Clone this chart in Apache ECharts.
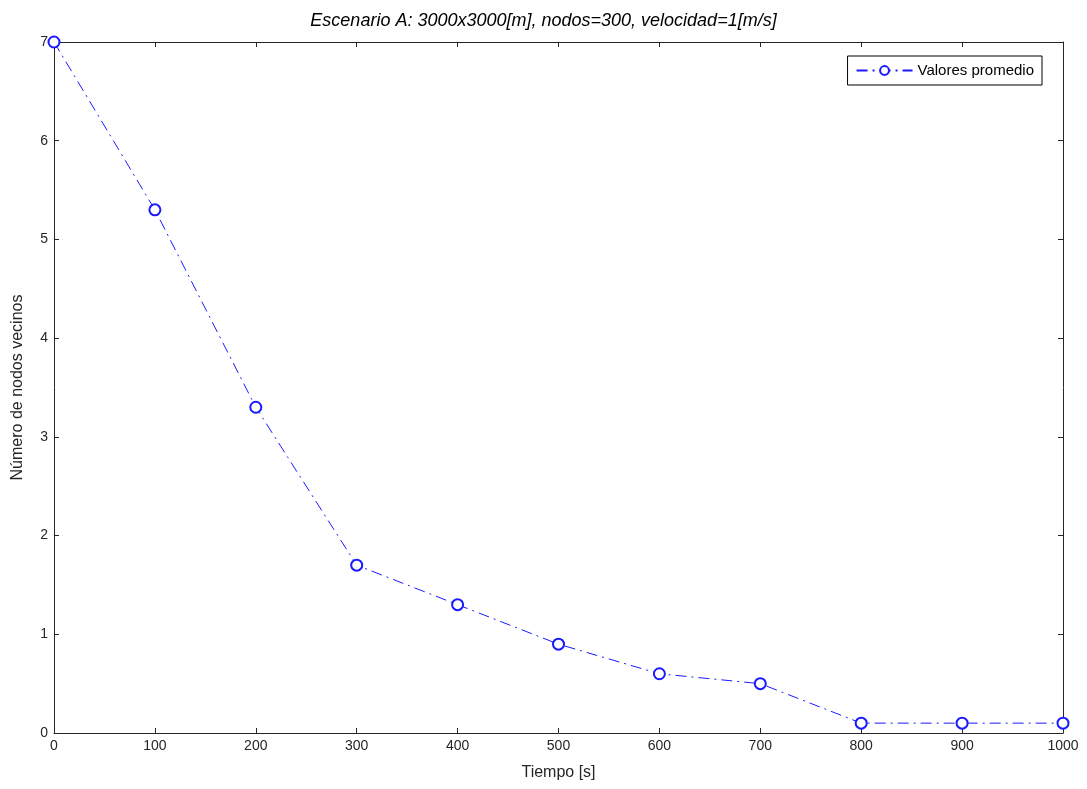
<!DOCTYPE html>
<html><head><meta charset="utf-8">
<script src="https://cdn.jsdelivr.net/npm/echarts@6/dist/echarts.min.js"></script>
<style>html,body{margin:0;padding:0;background:#fff}#c{width:1087px;height:789px}</style>
</head><body><div id="c"></div>
<script>
const times = [0,100,200,300,400,500,600,700,800,900,1000];
const vecinos = [7,5.3,3.3,1.7,1.3,0.9,0.6,0.5,0.1,0.1,0.1];
const chart = echarts.init(document.getElementById('c'));
const font = 'Liberation Sans, Arial, sans-serif';
const axBase = {
  axisLine:{show:true,onZero:false,lineStyle:{color:'#262626',width:1}},
  axisTick:{show:true,inside:true,length:5,lineStyle:{color:'#262626'}},
  splitLine:{show:false}
};
chart.setOption({
  animation:false,
  title:{text:'Escenario A: 3000x3000[m], nodos=300, velocidad=1[m/s]',left:'center',top:7,
    textStyle:{fontFamily:font,fontStyle:'italic',fontWeight:'normal',fontSize:18,color:'#000'}},
  grid:{left:54,right:24,top:42,bottom:56},
  legend:{right:45,top:56,orient:'vertical',borderColor:'#000',borderWidth:1,padding:[7,8,7,8],
    itemWidth:56,itemHeight:11,itemGap:0,
    textStyle:{fontFamily:font,fontSize:15,color:'#000'},data:['Valores promedio']},
  xAxis:[
    Object.assign({type:'value',min:0,max:1000,interval:100,position:'bottom',
      name:'Tiempo [s]',nameLocation:'middle',nameGap:32,
      nameTextStyle:{fontFamily:font,fontSize:16,color:'#262626'},
      axisLabel:{fontFamily:font,fontSize:14,color:'#262626',margin:6,formatter:v=>String(v)}},axBase),
    Object.assign({type:'value',min:0,max:1000,interval:100,position:'top',axisLabel:{show:false}},axBase)
  ],
  yAxis:[
    Object.assign({type:'value',min:0,max:7,interval:1,position:'left',
      name:'Número de nodos vecinos',nameLocation:'middle',nameGap:28,
      nameTextStyle:{fontFamily:font,fontSize:16,color:'#262626'},
      axisLabel:{fontFamily:font,fontSize:14,color:'#262626',margin:6}},axBase),
    Object.assign({type:'value',min:0,max:7,interval:1,position:'right',axisLabel:{show:false}},axBase)
  ],
  series:[{
    name:'Valores promedio',type:'line',
    data:times.map((t,i)=>[t,vecinos[i]]),
    symbol:'emptyCircle',symbolSize:11,
    lineStyle:{color:'#1a1aff',width:1,type:[11,5,2,5]},
    itemStyle:{color:'#1a1aff',borderColor:'#1a1aff',borderWidth:1},
    clip:false
  }]
});
</script></body></html>
